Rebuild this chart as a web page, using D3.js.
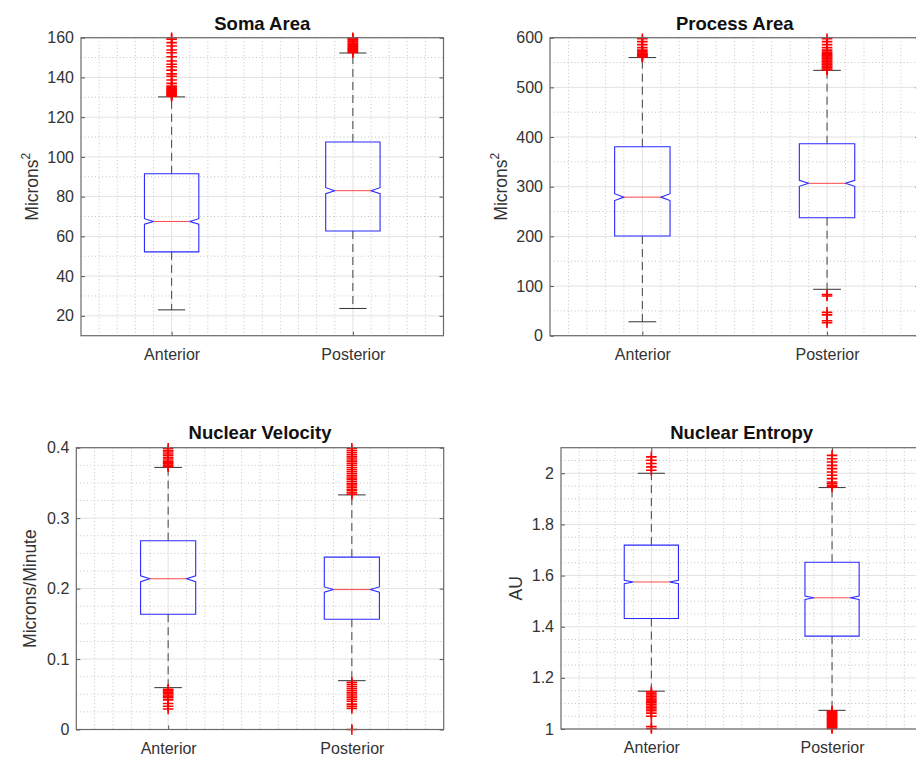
<!DOCTYPE html>
<html>
<head>
<meta charset="utf-8">
<script src="https://cdn.jsdelivr.net/npm/d3@7"></script>
<style>
  body { margin: 0; background: #fff; }
  text { font-family: "Liberation Sans", Arial, Helvetica, sans-serif; }
</style>
</head>
<body>
<svg id="chart"></svg>
<script>
var groups = ['Anterior', 'Posterior'];

// box stats per group: [lower whisker, q1, median, q3, upper whisker]
var somaStats = [[23, 52.2, 67.5, 91.5, 130.2], [23.7, 62.7, 83.0, 107.5, 152.3]];
var somaNotch = [1.4, 1.5];
var somaOut = [
    [130.6, 131.0, 131.5, 131.9, 132.4, 132.8, 133.3, 133.9, 134.4, 135.0, 135.6, 137.0, 138.7, 140.6,
     141.8, 143.7, 145.4, 146.6, 148.3, 150.4, 152.4, 153.8, 155.8, 157.5, 159.2, 160.0],
    [152.6, 153.0, 153.5, 154.1, 154.6, 155.0, 155.6, 156.1, 156.7, 157.2, 157.8, 158.3, 158.9, 159.4, 160.0]
];
var somaTicks = [20, 40, 60, 80, 100, 120, 140, 160];
var somaTickLabels = ['20', '40', '60', '80', '100', '120', '140', '160'];

var processStats = [[28, 200.7, 279, 380.5, 560], [93.4, 237.6, 306.8, 386.6, 534.3]];
var processNotch = [7, 6];
var processOut = [
    [561, 562.5, 564, 565.5, 567, 569, 572, 575, 580, 586, 592, 598],
    [535, 537, 539.5, 541, 543, 545.5, 547, 549, 551.5, 553, 555, 557.5, 559, 561, 563.5, 566, 568,
     571, 575, 580, 586, 592, 598, 83, 80, 47, 42, 30, 26]
];
var processTicks = [0, 100, 200, 300, 400, 500, 600];
var processTickLabels = ['0', '100', '200', '300', '400', '500', '600'];

var velocityStats = [[0.0594, 0.1636, 0.214, 0.268, 0.372], [0.0693, 0.1566, 0.1986, 0.2447, 0.333]];
var velocityNotch = [0.0042, 0.0038];
var velocityOut = [
    [0.373, 0.375, 0.377, 0.379, 0.381, 0.384, 0.386, 0.389, 0.391, 0.394, 0.396, 0.399,
     0.057, 0.055, 0.053, 0.051, 0.049, 0.047, 0.045, 0.042, 0.037, 0.033, 0.029],
    [0.334, 0.336, 0.339, 0.341, 0.344, 0.347, 0.349, 0.352, 0.355, 0.357, 0.360, 0.363, 0.366,
     0.369, 0.372, 0.375, 0.378, 0.381, 0.384, 0.387, 0.390, 0.393, 0.396, 0.399,
     0.067, 0.064, 0.061, 0.058, 0.055, 0.052, 0.049, 0.046, 0.043, 0.040, 0.036, 0.033, 0.030, 0]
];
var velocityTicks = [0, 0.1, 0.2, 0.3, 0.4];
var velocityTickLabels = ['0', '0.1', '0.2', '0.3', '0.4'];

var entropyStats = [[1.148, 1.432, 1.575, 1.719, 2.0], [1.073, 1.363, 1.513, 1.652, 1.944]];
var entropyNotch = [0.0065, 0.0065];
var entropyOut = [
    [2.012, 2.025, 2.038, 2.051, 2.064,
     1.145, 1.139, 1.133, 1.127, 1.121, 1.115, 1.109, 1.103, 1.097, 1.090, 1.084, 1.078, 1.072,
     1.062, 1.050, 1.010, 1.002],
    [1.947, 1.953, 1.960, 1.966, 1.979, 1.992, 2.005, 2.018, 2.031, 2.044, 2.057, 2.070,
     1.070, 1.066, 1.062, 1.058, 1.054, 1.050, 1.046, 1.042, 1.038, 1.034, 1.030, 1.026, 1.022,
     1.018, 1.014, 1.010, 1.006, 1.002]
];
var entropyTicks = [1, 1.2, 1.4, 1.6, 1.8, 2];
var entropyTickLabels = ['1', '1.2', '1.4', '1.6', '1.8', '2'];

var width = 916,
    height = 758,
    boxWidth = 0.3,
    capWidth = 0.15,
    notchInset = 0.05,
    markerSize = 5.3;

var panels = [
    { title: 'Soma Area', ylabel: 'Microns', sup: '2', stats: somaStats, notch: somaNotch, out: somaOut,
      ticks: somaTicks, labels: somaTickLabels, domain: [10, 160], minor: 10,
      rect: [81, 37.7, 443.5, 335.7], ylabX: 37.5, titleY: 30 },
    { title: 'Process Area', ylabel: 'Microns', sup: '2', stats: processStats, notch: processNotch, out: processOut,
      ticks: processTicks, labels: processTickLabels, domain: [0, 600], minor: 50,
      rect: [550, 37.7, 919.4, 335.7], ylabX: 506.5, titleY: 30 },
    { title: 'Nuclear Velocity', ylabel: 'Microns/Minute', sup: '', stats: velocityStats, notch: velocityNotch, out: velocityOut,
      ticks: velocityTicks, labels: velocityTickLabels, domain: [0, 0.4], minor: 0.025,
      rect: [76.3, 447.7, 443.7, 729.5], ylabX: 36, titleY: 439 },
    { title: 'Nuclear Entropy', ylabel: 'AU', sup: '', stats: entropyStats, notch: entropyNotch, out: entropyOut,
      ticks: entropyTicks, labels: entropyTickLabels, domain: [1, 2.1], minor: 0.05,
      rect: [561, 447.7, 922.4, 729], ylabX: 521.5, titleY: 439 }
];

var svg = d3.select('#chart')
    .attr('width', width)
    .attr('height', height);

svg.append('rect')
    .attr('width', width)
    .attr('height', height)
    .attr('fill', '#fff');

function near(v, list) {
    return list.some(function(t) { return Math.abs(t - v) < 1e-9; });
}

panels.forEach(function(p) {
    var x0 = p.rect[0], y0 = p.rect[1], x1 = p.rect[2], y1 = p.rect[3];

    var xScale = d3.scaleLinear().domain([0.5, 2.5]).range([x0, x1]);
    var yScale = d3.scaleLinear().domain(p.domain).range([y1, y0]);

    var g = svg.append('g');

    // minor grid (dotted)
    var minorY = d3.range(p.domain[0], p.domain[1] + 1e-9, p.minor)
        .map(function(v) { return +v.toFixed(6); })
        .filter(function(v) { return !near(v, p.ticks) && v > p.domain[0] && v < p.domain[1]; });
    var minorX = d3.range(0.6, 2.45, 0.1)
        .map(function(v) { return +v.toFixed(6); })
        .filter(function(v) { return !near(v, [1, 2]); });

    g.selectAll('.minor-y').data(minorY).enter().append('line')
        .attr('x1', x0).attr('x2', x1)
        .attr('y1', function(d) { return yScale(d); })
        .attr('y2', function(d) { return yScale(d); })
        .attr('stroke', '#c4c4c4').attr('stroke-dasharray', '1,2.5');

    g.selectAll('.minor-x').data(minorX).enter().append('line')
        .attr('y1', y0).attr('y2', y1)
        .attr('x1', function(d) { return xScale(d); })
        .attr('x2', function(d) { return xScale(d); })
        .attr('stroke', '#c4c4c4').attr('stroke-dasharray', '1,2.5');

    // major grid
    g.selectAll('.major-y').data(p.ticks).enter().append('line')
        .attr('x1', x0).attr('x2', x1)
        .attr('y1', function(d) { return yScale(d); })
        .attr('y2', function(d) { return yScale(d); })
        .attr('stroke', '#e2e2e2');

    g.selectAll('.major-x').data([1, 2]).enter().append('line')
        .attr('y1', y0).attr('y2', y1)
        .attr('x1', function(d) { return xScale(d); })
        .attr('x2', function(d) { return xScale(d); })
        .attr('stroke', '#e2e2e2');

    // axes
    var yAxis = d3.axisLeft(yScale)
        .tickValues(p.ticks)
        .tickFormat(function(d, i) { return p.labels[i]; })
        .tickSize(-4)
        .tickPadding(7);

    var xAxis = d3.axisBottom(xScale)
        .tickValues([1, 2])
        .tickFormat(function(d, i) { return groups[i]; })
        .tickSize(-4)
        .tickPadding(13);

    var ya = g.append('g').attr('transform', 'translate(' + x0 + ',0)').call(yAxis);
    var xa = g.append('g').attr('transform', 'translate(0,' + y1 + ')').call(xAxis);
    var yr = g.append('g').attr('transform', 'translate(' + x1 + ',0)')
        .call(d3.axisRight(yScale).tickValues(p.ticks).tickSize(-4).tickFormat(''));
    var xt = g.append('g').attr('transform', 'translate(0,' + y0 + ')')
        .call(d3.axisTop(xScale).tickValues([1, 2]).tickSize(-4).tickFormat(''));

    [ya, xa, yr, xt].forEach(function(a) {
        a.select('.domain').remove();
        a.selectAll('line').attr('stroke', '#555');
        a.selectAll('text')
            .attr('fill', '#333')
            .style('font-size', '16px')
            .style('font-family', '"Liberation Sans", Arial, sans-serif');
    });

    // whiskers and boxes
    p.stats.forEach(function(s, i) {
        var cx = xScale(i + 1),
            bl = xScale(i + 1 - boxWidth / 2),
            br = xScale(i + 1 + boxWidth / 2),
            inset = xScale(1 + notchInset) - xScale(1),
            capL = xScale(i + 1 - capWidth / 2),
            capR = xScale(i + 1 + capWidth / 2),
            nLo = s[2] - p.notch[i],
            nHi = s[2] + p.notch[i];

        // dashed whiskers
        g.append('line')
            .attr('x1', cx).attr('x2', cx)
            .attr('y1', yScale(s[3])).attr('y2', yScale(s[4]))
            .attr('stroke', '#444').attr('stroke-dasharray', '8,5');
        g.append('line')
            .attr('x1', cx).attr('x2', cx)
            .attr('y1', yScale(s[1])).attr('y2', yScale(s[0]))
            .attr('stroke', '#444').attr('stroke-dasharray', '8,5');

        // caps
        [s[0], s[4]].forEach(function(v) {
            g.append('line')
                .attr('x1', capL).attr('x2', capR)
                .attr('y1', yScale(v)).attr('y2', yScale(v))
                .attr('stroke', '#333');
        });

        // notched box
        var path = d3.path();
        path.moveTo(bl, yScale(s[3]));
        path.lineTo(br, yScale(s[3]));
        path.lineTo(br, yScale(nHi));
        path.lineTo(br - inset, yScale(s[2]));
        path.lineTo(br, yScale(nLo));
        path.lineTo(br, yScale(s[1]));
        path.lineTo(bl, yScale(s[1]));
        path.lineTo(bl, yScale(nLo));
        path.lineTo(bl + inset, yScale(s[2]));
        path.lineTo(bl, yScale(nHi));
        path.closePath();

        g.append('path')
            .attr('d', path.toString())
            .attr('fill', 'none')
            .attr('stroke', '#2a2aff')
            .attr('stroke-width', 1.1);

        // median
        g.append('line')
            .attr('x1', bl + inset).attr('x2', br - inset)
            .attr('y1', yScale(s[2])).attr('y2', yScale(s[2]))
            .attr('stroke', '#ff4a4a');

        // outliers
        g.selectAll('.out' + i).data(p.out[i]).enter().append('path')
            .attr('d', function(d) {
                var py = yScale(d);
                return 'M' + (cx - markerSize) + ',' + py + 'H' + (cx + markerSize) +
                    'M' + cx + ',' + (py - markerSize) + 'V' + (py + markerSize);
            })
            .attr('stroke', '#ff0000')
            .attr('stroke-width', 1.6)
            .attr('fill', 'none');
    });

    // plot border
    g.append('rect')
        .attr('x', x0).attr('y', y0)
        .attr('width', x1 - x0).attr('height', y1 - y0)
        .attr('fill', 'none')
        .attr('stroke', '#6a6a6a')
        .attr('stroke-width', 1.2);

    // title
    g.append('text')
        .attr('x', (x0 + x1) / 2)
        .attr('y', p.titleY)
        .attr('text-anchor', 'middle')
        .style('font-size', '18.5px')
        .style('font-weight', 'bold')
        .attr('fill', '#111')
        .text(p.title);

    // y label
    var yl = g.append('text')
        .attr('transform', 'translate(' + p.ylabX + ',' + ((y0 + y1) / 2) + ') rotate(-90)')
        .attr('text-anchor', 'middle')
        .style('font-size', '17.5px')
        .attr('fill', '#333');
    yl.append('tspan').text(p.ylabel);
    if (p.sup) {
        yl.append('tspan')
            .attr('dy', -8)
            .style('font-size', '12px')
            .text(p.sup);
    }
});
</script>
</body>
</html>
